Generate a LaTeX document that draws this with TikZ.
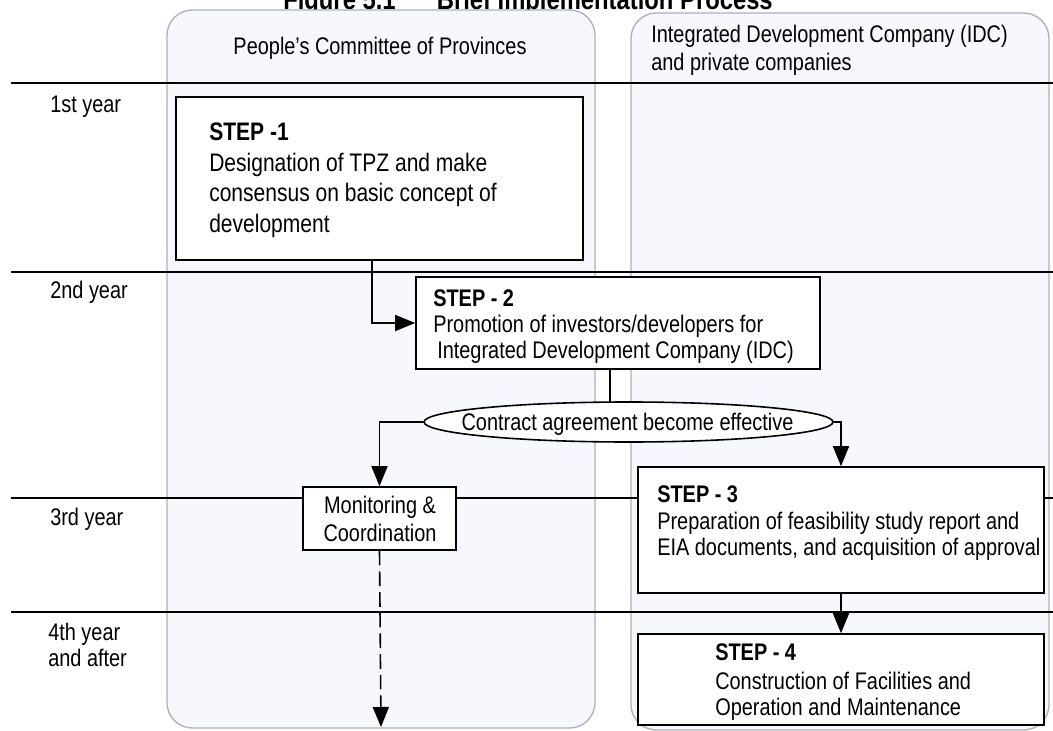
\documentclass[tikz,border=0pt]{standalone}
\usepackage{fontspec}
\setmainfont{Liberation Sans}[FakeStretch=0.83]
\usetikzlibrary{arrows.meta,shapes.geometric,fit}
\definecolor{lanefill}{RGB}{247,248,253}
\definecolor{laneedge}{RGB}{176,176,182}
\begin{document}
\begin{tikzpicture}[x=0.75pt,y=-0.75pt,
  every node/.style={font=\fontsize{18pt}{21pt}\selectfont, inner sep=0pt},
  lane/.style={draw=laneedge, line width=1pt, fill=lanefill, rounded corners=19pt},
  stepbox/.style={draw=black, line width=1.2pt, fill=white, inner sep=0pt},
  txt/.style={anchor=base west},
  ctxt/.style={anchor=base},
  bold/.style={font=\fontsize{18pt}{21pt}\selectfont\bfseries},
  big/.style={font=\fontsize{19pt}{22pt}\selectfont},
  bigbold/.style={font=\fontsize{19pt}{22pt}\selectfont\bfseries},
  gridline/.style={line width=1pt},
  conn/.style={line width=1.2pt},
  arr/.style={conn, -{Triangle[length=15pt,width=12pt]}},
]
\useasboundingbox (0,0) rectangle (1053,731);
\clip (0,0) rectangle (1053,731);

% title (cut off at top)
\node[txt, font=\fontsize{21.5pt}{24pt}\selectfont\bfseries] (title1) at (283,10) {Figure 5.1};
\node[anchor=base east, font=\fontsize{21.5pt}{24pt}\selectfont\bfseries] (title2) at (773,10) {Brief Implementation Process};

% lanes
\draw[lane] (167,10) rectangle (595,728);
\draw[lane] (631,13) rectangle (1049,730);

% year lines
\draw[gridline] (11,83) -- (1053,83);
\draw[gridline] (11,272) -- (1053,272);
\draw[gridline] (11,498) -- (1053,498);
\draw[gridline] (11,612) -- (1053,612);

% headers
\node[ctxt] (h1) at (380,55) {People's Committee of Provinces};
\node[txt] (h2a) at (651,43) {Integrated Development Company (IDC)};
\node[txt] (h2b) at (651,71) {and private companies};

% years
\node[txt] (y1) at (50,113) {1st year};
\node[txt] (y2) at (50,298) {2nd year};
\node[txt] (y3) at (50,525) {3rd year};
\node[txt] (y4a) at (48,640) {4th year};
\node[txt] (y4b) at (48,666) {and after};

% boxes
\node[stepbox, fit={(176,97) (583,260)}] (s1) {};
\node[stepbox, fit={(416,277) (820,369)}] (s2) {};
\node[stepbox, fit={(303,487) (456,550)}] (mon) {};
\node[stepbox, fit={(638,467) (1044,593)}] (s3) {};
\node[stepbox, fit={(638,634) (1044,725)}] (s4) {};

% connectors
\coordinate (c1) at (372,322);
\coordinate (c2) at (610,380);
\coordinate (dend) at (381,727);
\draw[arr] (s1.south -| c1) |- (s2.west);
\draw[conn] (s2.south -| c2) -- (c2 |- 0,410);
\node[ellipse, draw=black, line width=1.2pt, fill=white, minimum width=306.75pt, minimum height=30pt] (ell) at (628.5,422) {};
\draw[arr] (ell.west) -| (mon.north);
\draw[arr] (ell.east) -| (s3.north);
\draw[arr] (s3.south) -- (s4.north);
\draw[arr, dash pattern=on 11pt off 4.5pt] (mon.south) -- (dend);

% texts
\node[anchor=base] (ellt) at (627.5,430) {Contract agreement become effective};

\node[txt, bigbold] (s1a) at (209,141) {STEP -1};
\node[txt, big] (s1b) at (209,172) {Designation of TPZ and make};
\node[txt, big] (s1c) at (209,202) {consensus on basic concept of};
\node[txt, big] (s1d) at (209,233) {development};

\node[txt, bold] (s2a) at (433,306) {STEP - 2};
\node[txt] (s2b) at (433,332) {Promotion of investors/developers for};
\node[txt] (s2c) at (437,358) {Integrated Development Company (IDC)};

\node[ctxt] (m1) at (380,513) {Monitoring \&};
\node[ctxt] (m2) at (380,541) {Coordination};

\node[txt, bold] (s3a) at (657,502) {STEP - 3};
\node[txt] (s3b) at (657,529) {Preparation of feasibility study report and};
\node[txt] (s3c) at (657,555) {EIA documents, and acquisition of approval};

\node[txt, bold] (s4a) at (715,660) {STEP - 4};
\node[txt] (s4b) at (715,689) {Construction of Facilities and};
\node[txt] (s4c) at (715,715) {Operation and Maintenance};
\end{tikzpicture}
\end{document}
